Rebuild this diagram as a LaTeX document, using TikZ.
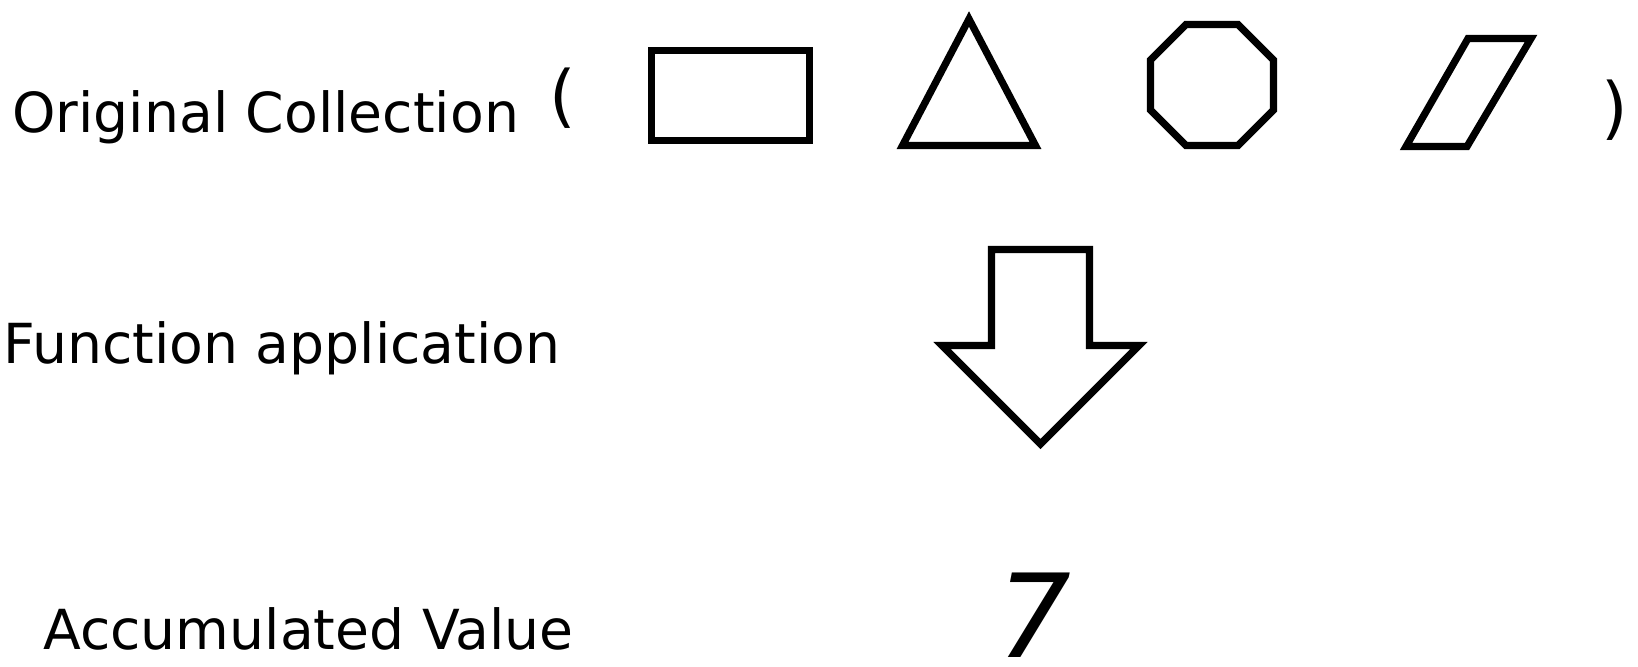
\documentclass[tikz,border=0pt]{standalone}
\usepackage{fontspec}
\setmainfont{DejaVu Sans}
\begin{document}
\begin{tikzpicture}[x=0.5pt,y=-0.5pt,
  shapeline/.style={line width=3.6pt, line join=miter, miter limit=10},
  labeltext/.style={anchor=base west, inner sep=0pt, font=\fontsize{27.6}{33}\selectfont},
  paren/.style={anchor=base west, inner sep=0pt, font=\fontsize{34}{40}\selectfont},
  result/.style={anchor=base, inner sep=0pt, font=\fontsize{58}{66}\selectfont\itshape}]
\useasboundingbox (0,0) rectangle (1638,666);
% labels
\node[labeltext] (orig) at (12,132) {Original Collection};
\node[labeltext] (func) at (3,363) {Function application};
\node[labeltext] (acc) at (43,649) {Accumulated Value};
% brackets
\node[paren] (lp) at (549,119) {(};
\node[paren] (rp) at (1601,131) {)};
% rectangle
\draw[shapeline] (651.5,50.5) rectangle (809.5,140.5);
% triangle
\draw[shapeline] (969,19) -- (1035.5,145.5) -- (902.5,145.5) -- cycle;
% octagon
\draw[shapeline] (1186,24.5) -- (1238,24.5) -- (1273.5,60) -- (1273.5,110)
  -- (1238,145.5) -- (1186,145.5) -- (1150.5,110) -- (1150.5,60) -- cycle;
% parallelogram
\draw[shapeline] (1468,38.5) -- (1531,38.5) -- (1467,146.5) -- (1406,146.5) -- cycle;
% block arrow
\draw[shapeline] (991.5,249.5) -- (1089.5,249.5) -- (1089.5,345.5) -- (1139,345.5)
  -- (1040.5,444) -- (942,345.5) -- (991.5,345.5) -- cycle;
% result
\node[result] (val) at (1034,657) {7};
\end{tikzpicture}
\end{document}
